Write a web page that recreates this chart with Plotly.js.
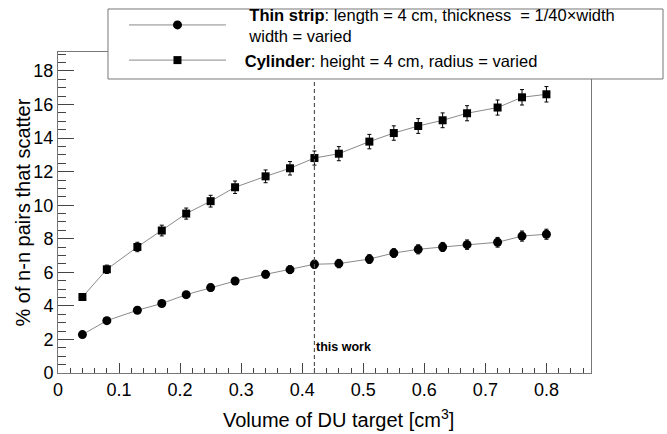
<!DOCTYPE html>
<html>
<head>
<meta charset="utf-8">
<script src="https://cdn.plot.ly/plotly-3.0.1.min.js"></script>
<style>html,body{margin:0;padding:0;background:#fff;}#chart{width:667px;height:434px;}</style>
</head>
<body>
<div id="chart"></div>
<script>
// Volume of DU target [cm^3]
const volume = [0.04, 0.08, 0.13, 0.17, 0.21, 0.25, 0.29, 0.34, 0.38, 0.42, 0.46, 0.51, 0.55, 0.59, 0.63, 0.67, 0.72, 0.76, 0.80];
// % of n-n pairs that scatter
const stripPct = [2.29, 3.12, 3.74, 4.14, 4.67, 5.09, 5.48, 5.88, 6.16, 6.48, 6.52, 6.79, 7.15, 7.37, 7.51, 7.65, 7.79, 8.16, 8.27];
const stripErr = [0.12, 0.15, 0.17, 0.18, 0.19, 0.2, 0.21, 0.22, 0.23, 0.24, 0.25, 0.26, 0.26, 0.27, 0.27, 0.28, 0.29, 0.3, 0.3];
const cylPct = [4.53, 6.18, 7.51, 8.49, 9.50, 10.24, 11.07, 11.72, 12.20, 12.81, 13.07, 13.79, 14.30, 14.72, 15.06, 15.48, 15.82, 16.43, 16.61];
const cylErr = [0.2, 0.25, 0.28, 0.32, 0.33, 0.35, 0.37, 0.38, 0.4, 0.42, 0.42, 0.43, 0.43, 0.44, 0.44, 0.45, 0.45, 0.46, 0.46];
const xTicks = [0, 0.1, 0.2, 0.3, 0.4, 0.5, 0.6, 0.7, 0.8];
const xTickText = ['0', '0.1', '0.2', '0.3', '0.4', '0.5', '0.6', '0.7', '0.8'];
const yTicks = [0, 2, 4, 6, 8, 10, 12, 14, 16, 18];
const thisWorkX = 0.42;
const stripName = '\u00a0\u00a0\u00a0\u00a0<b>Thin strip</b>: length = 4 cm, thickness\u00a0 = 1/40\u00d7width<br>\u00a0\u00a0\u00a0\u00a0width = varied';
const cylName = '\u00a0\u00a0\u00a0<b>Cylinder</b>: height = 4 cm, radius = varied';

const FONT = 'Liberation Sans, Arial, Helvetica, sans-serif';

const traces = [
  {
    x: volume, y: stripPct, name: stripName, type: 'scatter', mode: 'lines+markers',
    line: {color: '#8a8a8a', width: 1},
    marker: {symbol: 'circle', size: 9, color: '#000'},
    error_y: {type: 'data', array: stripErr, color: '#000', thickness: 1, width: 2}
  },
  {
    x: volume, y: cylPct, name: cylName, type: 'scatter', mode: 'lines+markers',
    line: {color: '#8a8a8a', width: 1},
    marker: {symbol: 'square', size: 8, color: '#000'},
    error_y: {type: 'data', array: cylErr, color: '#000', thickness: 1, width: 2}
  }
];

const layout = {
  width: 667, height: 434,
  margin: {l: 58, r: 76, t: 52, b: 61, autoexpand: false},
  paper_bgcolor: '#fff', plot_bgcolor: '#fff',
  font: {family: FONT, color: '#000', size: 18},
  showlegend: true,
  legend: {
    x: 0.1238, y: 1.1714, xanchor: 'left', yanchor: 'top',
    bgcolor: 'rgba(0,0,0,0)', borderwidth: 0,
    font: {family: FONT, size: 16.5, color: '#000'},
    itemwidth: 97, tracegroupgap: 0
  },
  xaxis: {
    range: [0, 0.873], autorange: false,
    tickvals: xTicks, ticktext: xTickText,
    ticks: 'inside', ticklen: 10, tickcolor: '#444', tickwidth: 1,
    minor: {dtick: 0.02, ticks: 'inside', ticklen: 5, tickcolor: '#444', showgrid: false},
    showgrid: false, zeroline: false,
    showline: true, linecolor: '#777', linewidth: 1, mirror: true,
    tickfont: {family: FONT, size: 18, color: '#000'}
  },
  yaxis: {
    range: [0, 19.13], autorange: false,
    tickvals: yTicks,
    ticks: 'inside', ticklen: 16, tickcolor: '#444', tickwidth: 1,
    minor: {dtick: 0.5, ticks: 'inside', ticklen: 8, tickcolor: '#444', showgrid: false},
    showgrid: false, zeroline: false,
    showline: true, linecolor: '#777', linewidth: 1, mirror: true,
    tickfont: {family: FONT, size: 18, color: '#000'}
  },
  shapes: [
    {type: 'line', xref: 'x', yref: 'paper', x0: thisWorkX, x1: thisWorkX, y0: 0, y1: 1,
     line: {color: '#555', width: 1.2, dash: '4px,3px'}},
    {type: 'rect', xref: 'paper', yref: 'paper', x0: 0.0938, x1: 1.1351, y0: 0.9159, y1: 1.134,
     layer: 'above', fillcolor: '#fff', line: {color: '#777', width: 1}}
  ],
  annotations: [
    {text: 'this work', xref: 'x', yref: 'y', x: thisWorkX, y: 1.55, xanchor: 'left', yanchor: 'middle',
     xshift: 0, showarrow: false, font: {family: FONT, size: 12.5, color: '#000', weight: 'bold'}},
    {text: 'Volume of DU target [cm<sup>3</sup>]', xref: 'paper', yref: 'paper', x: 0.527, y: -0.1402,
     xanchor: 'center', yanchor: 'middle', showarrow: false, font: {family: FONT, size: 20, color: '#000'}},
    {text: '% of n-n pairs that scatter', xref: 'paper', yref: 'paper', x: -0.0657, y: 0.5,
     xanchor: 'center', yanchor: 'middle', textangle: -90, showarrow: false,
     font: {family: FONT, size: 20, color: '#000'}}
  ]
};

Plotly.newPlot('chart', traces, layout, {displayModeBar: false, staticPlot: true});
</script>
</body>
</html>
